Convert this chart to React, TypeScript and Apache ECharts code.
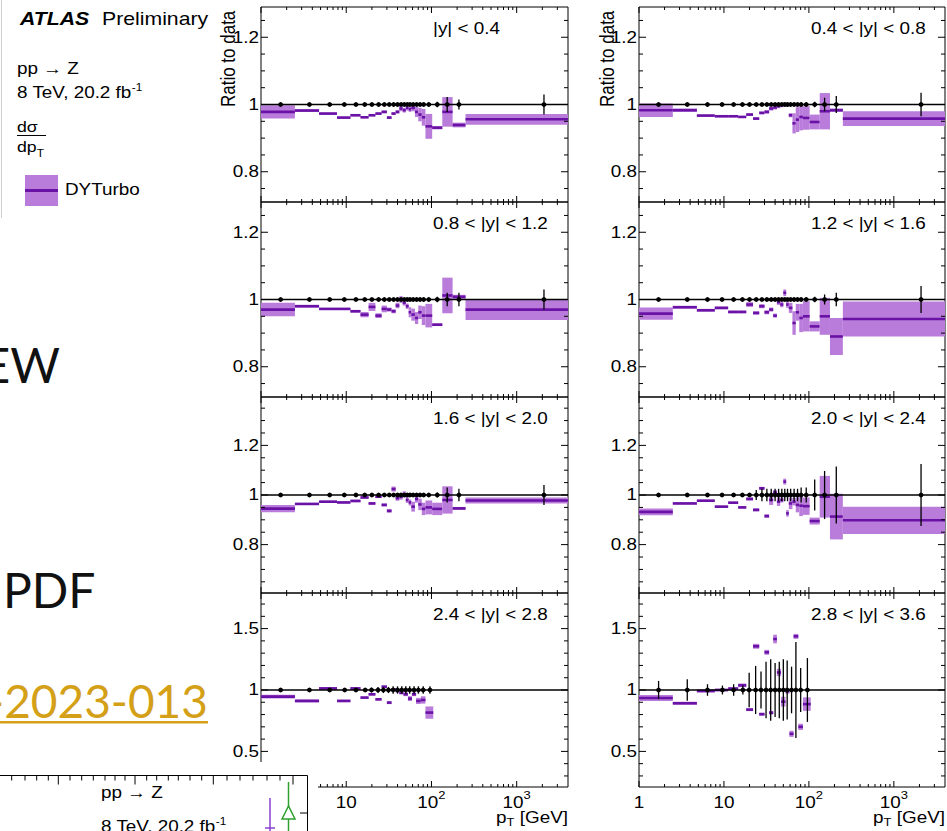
import React, { useEffect, useRef } from 'react';
import * as echarts from 'echarts';

const FONT = '"Liberation Sans", Arial, Helvetica, sans-serif';
const SLIDE_FONT = 'Lato, "DejaVu Sans", sans-serif';
const SX = 1.18;
const BAND_FILL = '#b97cda';
const BAND_LINE = '#6a12a6';
const GOLD = '#d4a017';

// pT binning (GeV) and data-point positions
const centralEdges = [1, 2.5, 4.8, 7.8, 11.2, 14.7, 18.3, 22, 26, 30, 34, 38, 42, 46, 50, 54, 58, 64, 70, 77, 85, 102, 134, 177, 251, 4000];
const centralPoints = [1.7, 3.7, 6.4, 9.5, 13, 16.5, 20, 24, 28, 32, 36, 40, 44, 48, 52, 56, 61, 67, 73.5, 81, 93, 117, 153, 210, 2090];
const forwardEdges = [1, 2.5, 4.8, 7.8, 11.2, 14.7, 18.3, 22, 26, 30, 34, 38, 42, 47, 53, 59, 66, 75, 85, 105];
const forwardPoints = [1.7, 3.7, 6.4, 9.6, 13, 16.7, 19.8, 23.6, 27.3, 31.3, 35.5, 40, 44.8, 50, 55.5, 62.5, 70.3, 80, 96];

// DYTurbo / data ratio (central value, band half width) and data uncertainty
const y1C = [0.978, 0.982, 0.973, 0.961, 0.968, 0.962, 0.968, 0.973, 0.978, 0.961, 0.973, 0.978, 0.988, 0.983, 0.99, 0.986, 0.99, 0.978, 0.97, 0.962, 0.935, 0.931, 0.978, 0.939, 0.956];
const y1E = [0.02, 0.004, 0.003, 0.003, 0.003, 0.003, 0.003, 0.003, 0.004, 0.004, 0.004, 0.005, 0.008, 0.007, 0.008, 0.008, 0.01, 0.015, 0.02, 0.025, 0.037, 0.005, 0.044, 0.007, 0.016];
const d1E = [0.003, 0.003, 0.003, 0.003, 0.003, 0.003, 0.003, 0.003, 0.003, 0.003, 0.003, 0.003, 0.003, 0.003, 0.004, 0.004, 0.004, 0.005, 0.005, 0.006, 0.006, 0.008, 0.022, 0.015, 0.03];

const y2C = [0.983, 0.983, 0.967, 0.965, 0.965, 0.963, 0.97, 0.958, 0.975, 0.978, 0.988, 0.991, 0.995, 0.998, 1.0, 0.999, 0.968, 0.944, 0.955, 0.963, 0.96, 0.948, 0.98, 0.983, 0.958];
const y2E = [0.02, 0.005, 0.003, 0.003, 0.003, 0.003, 0.004, 0.004, 0.004, 0.005, 0.006, 0.006, 0.006, 0.006, 0.006, 0.006, 0.006, 0.03, 0.037, 0.04, 0.035, 0.022, 0.054, 0.005, 0.022];
const d2E = [0.003, 0.003, 0.003, 0.003, 0.003, 0.003, 0.003, 0.003, 0.003, 0.003, 0.003, 0.003, 0.003, 0.003, 0.004, 0.004, 0.004, 0.005, 0.005, 0.006, 0.006, 0.008, 0.02, 0.025, 0.035];

const y3C = [0.97, 0.98, 0.972, 0.972, 0.965, 0.955, 0.978, 0.952, 0.972, 0.97, 0.965, 0.982, 1.0, 0.99, 0.98, 0.962, 0.955, 0.945, 0.962, 0.952, 0.952, 0.925, 1.012, 1.008, 0.97];
const y3E = [0.02, 0.004, 0.003, 0.003, 0.004, 0.008, 0.012, 0.007, 0.01, 0.006, 0.006, 0.008, 0.01, 0.008, 0.008, 0.015, 0.018, 0.018, 0.02, 0.028, 0.035, 0.004, 0.053, 0.006, 0.031];
const d3E = [0.003, 0.003, 0.003, 0.003, 0.003, 0.003, 0.003, 0.003, 0.003, 0.003, 0.003, 0.003, 0.003, 0.003, 0.004, 0.004, 0.004, 0.005, 0.005, 0.006, 0.006, 0.008, 0.02, 0.02, 0.03];

const y4C = [0.958, 0.977, 0.968, 0.975, 0.963, 0.963, 0.985, 0.96, 0.98, 0.962, 0.97, 0.952, 0.992, 0.985, 1.02, 0.985, 0.975, 0.93, 0.962, 0.945, 0.95, 0.92, 0.95, 0.89, 0.942];
const y4E = [0.018, 0.004, 0.004, 0.004, 0.004, 0.004, 0.007, 0.005, 0.006, 0.006, 0.006, 0.006, 0.008, 0.008, 0.01, 0.01, 0.015, 0.035, 0.025, 0.042, 0.045, 0.015, 0.055, 0.055, 0.052];
const d4E = [0.003, 0.003, 0.003, 0.003, 0.003, 0.003, 0.003, 0.003, 0.003, 0.003, 0.003, 0.003, 0.003, 0.003, 0.004, 0.004, 0.004, 0.005, 0.005, 0.006, 0.006, 0.008, 0.015, 0.02, 0.04];

const y5C = [0.945, 0.964, 0.973, 0.97, 0.976, 0.99, 0.966, 0.993, 0.96, 0.936, 1.024, 0.987, 0.993, 1.003, 0.98, 0.97, 0.953, 0.984, 0.962, 0.944, 0.95, 0.944, 0.98, 0.946, 0.978];
const y5E = [0.015, 0.004, 0.004, 0.004, 0.005, 0.005, 0.005, 0.005, 0.006, 0.007, 0.01, 0.01, 0.012, 0.012, 0.012, 0.012, 0.02, 0.015, 0.023, 0.025, 0.028, 0.025, 0.055, 0.006, 0.012];
const d5E = [0.003, 0.003, 0.003, 0.003, 0.003, 0.003, 0.003, 0.004, 0.004, 0.004, 0.004, 0.004, 0.004, 0.004, 0.005, 0.005, 0.005, 0.006, 0.006, 0.007, 0.008, 0.01, 0.03, 0.025, 0.04];

const y6C = [0.932, 0.966, 0.977, 0.953, 0.969, 0.95, 0.984, 0.94, 1.027, 0.915, 0.98, 1.01, 0.973, 0.98, 1.054, 0.926, 0.966, 0.973, 0.96, 0.957, 0.955, 0.895, 0.993, 0.913, 0.898];
const y6E = [0.014, 0.004, 0.004, 0.004, 0.004, 0.004, 0.006, 0.006, 0.006, 0.007, 0.02, 0.01, 0.017, 0.01, 0.012, 0.013, 0.023, 0.015, 0.03, 0.042, 0.035, 0.014, 0.084, 0.092, 0.055];
const d6E = [0.006, 0.006, 0.006, 0.006, 0.006, 0.006, 0.008, 0.02, 0.025, 0.025, 0.025, 0.025, 0.025, 0.025, 0.025, 0.025, 0.025, 0.025, 0.025, 0.03, 0.03, 0.062, 0.097, 0.115, 0.125];

const y7C = [0.946, 0.911, 1.013, 0.911, 1.013, 0.938, 0.965, 0.924, 1.027, 0.897, 1.005, 0.992, 0.978, 0.965, 0.93, 0.965, 0.911, 0.919, 0.816];
const y7E = [0.015, 0.012, 0.01, 0.01, 0.01, 0.01, 0.01, 0.01, 0.01, 0.012, 0.012, 0.012, 0.015, 0.015, 0.02, 0.015, 0.025, 0.03, 0.05];
const d7E = [0.015, 0.015, 0.012, 0.012, 0.012, 0.015, 0.02, 0.025, 0.025, 0.025, 0.03, 0.03, 0.03, 0.03, 0.03, 0.03, 0.03, 0.03, 0.03];

const y8C = [0.935, 0.892, 0.992, 1.0, 1.011, 1.038, 0.84, 1.356, 0.803, 1.307, 0.815, 1.415, 1.143, 0.905, 0.99, 0.643, 1.437, 0.7, 0.885];
const y8E = [0.025, 0.012, 0.012, 0.01, 0.012, 0.015, 0.012, 0.02, 0.012, 0.02, 0.015, 0.035, 0.03, 0.04, 0.02, 0.025, 0.02, 0.025, 0.055];
const d8E = [0.074, 0.088, 0.047, 0.036, 0.047, 0.036, 0.14, 0.196, 0.15, 0.23, 0.25, 0.22, 0.23, 0.25, 0.24, 0.19, 0.39, 0.18, 0.26];

const panelLabels = ['|y| < 0.4', '0.4 < |y| < 0.8', '0.8 < |y| < 1.2', '1.2 < |y| < 1.6', '1.6 < |y| < 2.0', '2.0 < |y| < 2.4', '2.4 < |y| < 2.8', '2.8 < |y| < 3.6'];

// axis ticks and labels
const xMajorTicks = [1, 10, 100, 1000];
const xMinorTicks = [2, 3, 4, 5, 6, 7, 8, 9, 20, 30, 40, 50, 60, 70, 80, 90, 200, 300, 400, 500, 600, 700, 800, 900, 2000, 3000];
const xTickLabels = ['1', '10', '10{s|2}', '10{s|3}'];
const ratioTicks = [0.65, 0.7, 0.75, 0.8, 0.85, 0.9, 0.95, 1, 1.05, 1.1, 1.15, 1.2, 1.25, 1.3, 1.35];
const ratioLabels = [0.8, 1, 1.2];
const wideTicks = [0.3, 0.4, 0.5, 0.6, 0.7, 0.8, 0.9, 1, 1.1, 1.2, 1.3, 1.4, 1.5, 1.6, 1.7];
const wideLabels = [0.5, 1, 1.5];

const rowRanges = [[0.71, 1.29], [0.71, 1.29], [0.605, 1.395], [0.21, 1.79]];
const colLeft = [261, 639];
const colWidth = [307, 306];
const rowTop = [7, 202, 397, 593];
const rowHeight = [195, 195, 196, 194];

const panels = [
  { c: y1C, e: y1E, d: d1E, fwd: false },
  { c: y2C, e: y2E, d: d2E, fwd: false },
  { c: y3C, e: y3E, d: d3E, fwd: false },
  { c: y4C, e: y4E, d: d4E, fwd: false },
  { c: y5C, e: y5E, d: d5E, fwd: false },
  { c: y6C, e: y6E, d: d6E, fwd: false },
  { c: y7C, e: y7E, d: d7E, fwd: true },
  { c: y8C, e: y8E, d: d8E, fwd: true },
];

function tstyle(text: string, o: any = {}) {
  const s: any = {
    text,
    fill: o.fill ?? '#000',
    fontSize: o.size ?? 16,
    fontFamily: o.family ?? FONT,
    fontWeight: o.weight ?? 'normal',
    fontStyle: o.fstyle ?? 'normal',
    align: o.align ?? 'left',
    verticalAlign: o.valign ?? 'middle',
    textAlign: o.align ?? 'left',
    textVerticalAlign: o.valign ?? 'middle',
  };
  if (o.lh) s.lineHeight = o.lh;
  if (o.rich) s.rich = o.rich;
  return s;
}

function ctext(x: number, y: number, text: string, o: any = {}) {
  return { type: 'text', x, y, scaleX: o.sx ?? SX, scaleY: o.sy ?? 1, rotation: o.rot ?? 0, style: tstyle(text, o) };
}

function bandRender(params: any, api: any) {
  const lo = api.value(0), hi = api.value(1), c = api.value(2), e = api.value(3);
  const a = api.coord([lo, c + e]);
  const b = api.coord([hi, c - e]);
  const m = api.coord([lo, c]);
  return {
    type: 'group',
    children: [
      { type: 'rect', shape: { x: a[0], y: a[1], width: b[0] - a[0], height: Math.max(b[1] - a[1], 1) }, style: { fill: BAND_FILL } },
      { type: 'line', shape: { x1: a[0], y1: m[1], x2: b[0], y2: m[1] }, style: { stroke: BAND_LINE, lineWidth: 2.6 } },
    ],
  };
}

function pointRender(params: any, api: any) {
  const x = api.value(0), y = api.value(1), e = api.value(2);
  const p = api.coord([x, y]);
  const t = api.coord([x, y + e]);
  const b = api.coord([x, y - e]);
  return {
    type: 'group',
    children: [
      { type: 'line', shape: { x1: p[0], y1: t[1], x2: p[0], y2: b[1] }, style: { stroke: '#000', lineWidth: 1.3 } },
      { type: 'circle', shape: { cx: p[0], cy: p[1], r: 2.4 }, style: { fill: '#000' } },
    ],
  };
}

function makeFrame(label: string, row: number, ymin: number, ymax: number) {
  const wide = row === 3;
  const yTicks = (wide ? wideTicks : ratioTicks).filter((v) => v > ymin && v < ymax);
  const yLabels = wide ? wideLabels : ratioLabels;
  const showX = row === 3;
  return (params: any, api: any) => {
    const cs = params.coordSys;
    const x0 = cs.x, x1 = cs.x + cs.width, y0 = cs.y, y1 = cs.y + cs.height;
    const ch: any[] = [];
    const one = api.coord([1, 1])[1];
    ch.push({ type: 'line', shape: { x1: x0, y1: one, x2: x1, y2: one }, style: { stroke: '#000', lineWidth: 1.3 } });
    const tick = (xa: number, ya: number, xb: number, yb: number) =>
      ch.push({ type: 'line', shape: { x1: xa, y1: ya, x2: xb, y2: yb }, style: { stroke: '#000', lineWidth: 1 } });
    xMajorTicks.forEach((v) => {
      const px = api.coord([v, 1])[0];
      tick(px, y1, px, y1 - 6);
      tick(px, y0, px, y0 + 6);
    });
    xMinorTicks.forEach((v) => {
      const px = api.coord([v, 1])[0];
      tick(px, y1, px, y1 - 3);
      tick(px, y0, px, y0 + 3);
    });
    yTicks.forEach((v) => {
      const py = api.coord([1, v])[1];
      const major = yLabels.some((l) => Math.abs(l - v) < 1e-9);
      const len = major ? 7 : 4;
      tick(x0, py, x0 + len, py);
      tick(x1, py, x1 - len, py);
    });
    yLabels.forEach((v) => {
      const py = api.coord([1, v])[1];
      ch.push(ctext(x0 - 2, py, v === 1 ? '1' : v.toFixed(1), { align: 'right', size: 16 }));
    });
    ch.push(ctext(x0 + 172, y0 + 22, label, { size: 16 }));
    if (showX) {
      xMajorTicks.forEach((v, k) => {
        const px = api.coord([v, 1])[0];
        ch.push(ctext(px, y1 + 16, xTickLabels[k], {
          align: 'center', size: 16, lh: 26,
          rich: { s: { fontSize: 11, fontFamily: FONT, lineHeight: 26, verticalAlign: 'top' } },
        }));
      });
      ch.push(ctext(x1, y1 + 31, 'p{sub|T} [GeV]', {
        align: 'right', size: 16, lh: 20,
        rich: { sub: { fontSize: 11, fontFamily: FONT, lineHeight: 20, verticalAlign: 'bottom' } },
      }));
    }
    return { type: 'group', children: ch };
  };
}

function gText(x: number, y: number, text: string, o: any = {}) {
  return {
    type: 'text', x, y, z: o.z ?? 10, silent: true,
    scaleX: o.sx ?? SX, scaleY: o.sy ?? 1, rotation: o.rot ?? 0,
    style: tstyle(text, o),
  };
}

function buildOption() {
  const grid: any[] = [];
  const xAxis: any[] = [];
  const yAxis: any[] = [];
  const series: any[] = [];
  panels.forEach((p, i) => {
    const col = i % 2;
    const row = Math.floor(i / 2);
    const [ymin, ymax] = rowRanges[row];
    grid.push({ left: colLeft[col], top: rowTop[row], width: colWidth[col], height: rowHeight[row], show: true, borderColor: '#000', borderWidth: 1, backgroundColor: 'transparent' });
    xAxis.push({ type: 'log', logBase: 10, gridIndex: i, min: 1, max: 4000, show: false });
    yAxis.push({ type: 'value', gridIndex: i, min: ymin, max: ymax, show: false });
    const edges = p.fwd ? forwardEdges : centralEdges;
    const pts = p.fwd ? forwardPoints : centralPoints;
    series.push({
      type: 'custom', xAxisIndex: i, yAxisIndex: i, z: 2, clip: true, silent: true,
      renderItem: bandRender, encode: { x: [0, 1], y: [2] },
      data: p.c.map((c, k) => [edges[k], edges[k + 1], c, p.e[k]]),
    });
    series.push({
      type: 'custom', xAxisIndex: i, yAxisIndex: i, z: 3, clip: false, silent: true,
      renderItem: makeFrame(panelLabels[i], row, ymin, ymax), encode: { x: 0, y: 1 },
      data: [[1, 1]],
    });
    series.push({
      type: 'custom', xAxisIndex: i, yAxisIndex: i, z: 4, clip: true, silent: true,
      renderItem: pointRender, encode: { x: 0, y: 1 },
      data: pts.map((x, k) => [x, 1, p.d[k]]),
    });
  });

  const els: any[] = [];
  // legend image border
  els.push({ type: 'line', z: 10, silent: true, shape: { x1: 1.5, y1: 0, x2: 1.5, y2: 218 }, style: { stroke: '#cfcfcf', lineWidth: 1 } });
  els.push(gText(20, 18.5, 'ATLAS', { size: 18, weight: 'bold', fstyle: 'italic' }));
  els.push(gText(102, 18.5, 'Preliminary', { size: 18 }));
  els.push(gText(17, 69, 'pp \u2192 Z', { size: 16 }));
  els.push(gText(17, 93, '8 TeV, 20.2 fb{s|-1}', { size: 16, lh: 22, rich: { s: { fontSize: 10, fontFamily: FONT, lineHeight: 22, verticalAlign: 'top' } } }));
  els.push(gText(17, 127, 'd\u03c3', { size: 15 }));
  els.push({ type: 'line', z: 10, silent: true, shape: { x1: 17, y1: 135.5, x2: 46, y2: 135.5 }, style: { stroke: '#000', lineWidth: 1 } });
  els.push(gText(17, 147, 'dp{sub|T}', { size: 15, lh: 22, rich: { sub: { fontSize: 10, fontFamily: FONT, lineHeight: 22, verticalAlign: 'bottom' } } }));
  els.push({ type: 'rect', z: 10, silent: true, shape: { x: 25, y: 175, width: 33, height: 31 }, style: { fill: BAND_FILL } });
  els.push({ type: 'line', z: 10, silent: true, shape: { x1: 25, y1: 190.5, x2: 58, y2: 190.5 }, style: { stroke: BAND_LINE, lineWidth: 3 } });
  els.push(gText(65, 190, 'DYTurbo', { size: 16 }));
  // y axis titles
  els.push(gText(228, 107, 'Ratio to data', { size: 17, sx: 1, sy: SX, rot: Math.PI / 2 }));
  els.push(gText(606.5, 107, 'Ratio to data', { size: 17, sx: 1, sy: SX, rot: Math.PI / 2 }));
  // slide text
  els.push(gText(60, 364, 'EW', { size: 48, family: SLIDE_FONT, sx: 1, align: 'right', fill: '#111' }));
  els.push(gText(3, 589, 'PDF', { size: 48, family: SLIDE_FONT, sx: 1, fill: '#111' }));
  els.push(gText(208, 700, '-2023-013', { size: 46, family: SLIDE_FONT, sx: 1, align: 'right', fill: GOLD }));
  els.push({ type: 'rect', z: 10, silent: true, shape: { x: 0, y: 721, width: 208, height: 2.5 }, style: { fill: GOLD } });
  // inset of another plot (bottom-left)
  els.push({ type: 'rect', z: 100, silent: true, shape: { x: 0, y: 762, width: 318, height: 69 }, style: { fill: '#fff' } });
  els.push({ type: 'line', z: 101, silent: true, shape: { x1: 0, y1: 775.5, x2: 307.5, y2: 775.5 }, style: { stroke: '#000', lineWidth: 1 } });
  els.push({ type: 'line', z: 101, silent: true, shape: { x1: 307.5, y1: 775.5, x2: 307.5, y2: 831 }, style: { stroke: '#000', lineWidth: 1 } });
  const insetTicks = [11.7, 25, 36.7, 48.3, 58.3, 70, 81.7, 93.3, 105, 115, 125, 135, 146.7, 156.7, 168.3, 178.3, 190, 201.7, 213.3, 227, 240, 253, 267, 280, 293];
  const insetLong = [58.3, 135, 213.3, 290];
  insetTicks.forEach((tx) => {
    const long = insetLong.some((l) => Math.abs(l - tx) < 4);
    els.push({ type: 'line', z: 101, silent: true, shape: { x1: tx, y1: 775.5, x2: tx, y2: 775.5 + (long ? 9 : 5) }, style: { stroke: '#000', lineWidth: 1 } });
  });
  els.push({ type: 'line', z: 101, silent: true, shape: { x1: 300, y1: 813, x2: 307.5, y2: 813 }, style: { stroke: '#000', lineWidth: 1 } });
  els.push({ type: 'line', z: 101, silent: true, shape: { x1: 270, y1: 798, x2: 270, y2: 831 }, style: { stroke: '#8a3fd0', lineWidth: 1.5 } });
  els.push({ type: 'line', z: 101, silent: true, shape: { x1: 265, y1: 828, x2: 275, y2: 828 }, style: { stroke: '#8a3fd0', lineWidth: 1.5 } });
  els.push({ type: 'line', z: 101, silent: true, shape: { x1: 288.5, y1: 782, x2: 288.5, y2: 831 }, style: { stroke: '#2fa02f', lineWidth: 1.5 } });
  els.push({ type: 'polygon', z: 102, silent: true, shape: { points: [[288.5, 806], [282, 819], [295, 819]] }, style: { fill: '#fff', stroke: '#2fa02f', lineWidth: 1.5 } });
  els.push(gText(101, 793, 'pp \u2192 Z', { size: 16, z: 101 }));
  els.push(gText(101, 827, '8 TeV, 20.2 fb{s|-1}', { size: 16, z: 101, lh: 22, rich: { s: { fontSize: 10, fontFamily: FONT, lineHeight: 22, verticalAlign: 'top' } } }));

  return {
    animation: false,
    backgroundColor: '#fff',
    grid,
    xAxis,
    yAxis,
    series,
    graphic: { elements: els },
  };
}

export default function App() {
  const ref = useRef<HTMLDivElement>(null);
  useEffect(() => {
    if (!ref.current) return;
    const chart = echarts.init(ref.current, undefined, { renderer: 'svg' });
    chart.setOption(buildOption() as any);
    return () => chart.dispose();
  }, []);
  return <div ref={ref} style={{ position: 'absolute', left: 0, top: 0, width: 947, height: 831 }} />;
}
